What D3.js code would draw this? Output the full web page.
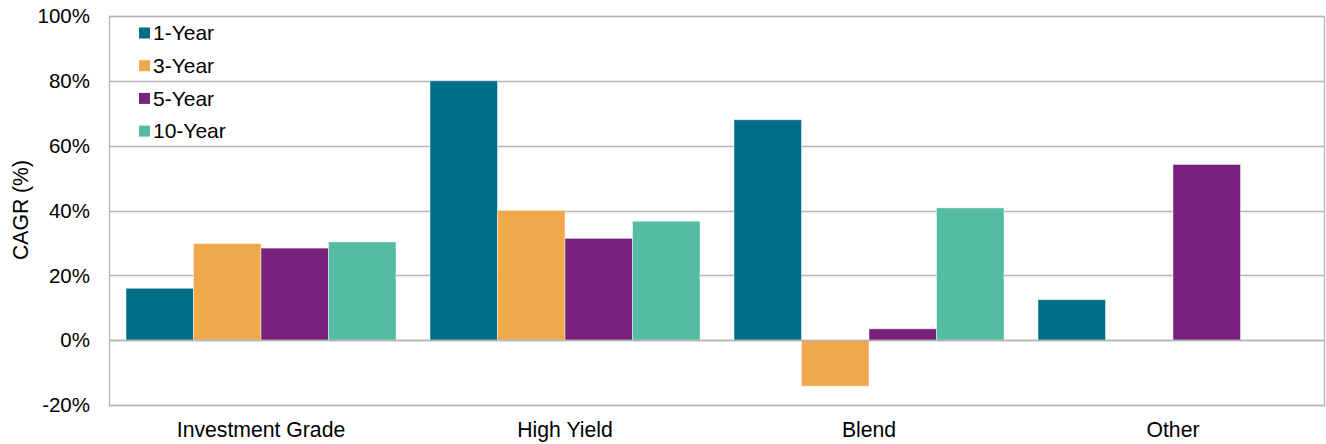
<!DOCTYPE html>
<html>
<head>
<meta charset="utf-8">
<script src="https://cdn.jsdelivr.net/npm/d3@7"></script>
<style>
  body { margin: 0; background: #fff; }
  text { font-family: "Liberation Sans", Arial, sans-serif; fill: #000; }
</style>
</head>
<body>
<svg id="chart" width="1326" height="444"></svg>
<script>
// data
const categories = ['Investment Grade', 'High Yield', 'Blend', 'Other']
const seriesNames = ['1-Year', '3-Year', '5-Year', '10-Year']
const oneYear = [16, 80, 68, 12.5]
const threeYear = [29.8, 40, -14.2, null]
const fiveYear = [28.4, 31.4, 3.5, 54.2]
const tenYear = [30.3, 36.7, 40.8, null]
const yTicks = [-20, 0, 20, 40, 60, 80, 100]
const colors = ['#006E89', '#F0A84D', '#78217D', '#55BBA2']

const seriesValues = [oneYear, threeYear, fiveYear, tenYear]

const svg = d3.select('#chart')
const margin = { top: 16, right: 1, bottom: 39, left: 109 }
const width = 1326 - margin.left - margin.right
const height = 444 - margin.top - margin.bottom

const g = svg.append('g').attr('transform', `translate(${margin.left},${margin.top})`)

const x0 = d3.scaleBand().domain(categories).range([0, width])
const gap = 17
const x1 = d3.scaleBand().domain(seriesNames).range([gap, x0.bandwidth() - gap])
const y = d3.scaleLinear().domain([-20, 100]).range([height, 0])

// gridlines
g.append('g')
  .selectAll('line')
  .data(yTicks)
  .enter()
  .append('line')
  .attr('x1', 0)
  .attr('x2', width)
  .attr('y1', d => Math.round(y(d)) + 0.5)
  .attr('y2', d => Math.round(y(d)) + 0.5)
  .attr('stroke', '#b5b5b5')
  .attr('stroke-width', 1.3)

// bars
const bars = []
categories.forEach((c, ci) => {
  seriesNames.forEach((s, si) => {
    const v = seriesValues[si][ci]
    if (v !== null) bars.push({ cat: c, series: s, value: v, color: colors[si] })
  })
})

g.append('g')
  .selectAll('rect')
  .data(bars)
  .enter()
  .append('rect')
  .attr('x', d => x0(d.cat) + x1(d.series))
  .attr('width', x1.bandwidth())
  .attr('y', d => y(Math.max(0, d.value)))
  .attr('height', d => Math.abs(y(d.value) - y(0)))
  .attr('fill', d => d.color)
  .attr('stroke', '#fff')
  .attr('stroke-opacity', 0.45)
  .attr('stroke-width', 1)

// zero line and plot border on top
g.append('line')
  .attr('x1', 0).attr('x2', width)
  .attr('y1', Math.round(y(0)) + 0.5).attr('y2', Math.round(y(0)) + 0.5)
  .attr('stroke', '#b5b5b5')
  .attr('stroke-width', 1.3)

g.append('rect')
  .attr('x', 0.5).attr('y', 0.5)
  .attr('width', width - 1).attr('height', height)
  .attr('fill', 'none')
  .attr('stroke', '#b5b5b5')
  .attr('stroke-width', 1.3)

// y tick labels
g.append('g')
  .selectAll('text')
  .data(yTicks)
  .enter()
  .append('text')
  .attr('x', -19)
  .attr('y', d => y(d))
  .attr('dy', '0.35em')
  .attr('text-anchor', 'end')
  .style('font-size', '20.5px')
  .text(d => d + '%')

// category labels
g.append('g')
  .selectAll('text')
  .data(categories)
  .enter()
  .append('text')
  .attr('x', d => x0(d) + x0.bandwidth() / 2)
  .attr('y', height + 32)
  .attr('text-anchor', 'middle')
  .style('font-size', '21.2px')
  .text(d => d)

// y axis title
svg.append('text')
  .attr('transform', 'translate(28,210) rotate(-90)')
  .attr('text-anchor', 'middle')
  .style('font-size', '21.2px')
  .text('CAGR (%)')

// legend
const legend = svg.append('g')
  .selectAll('g')
  .data(seriesNames)
  .enter()
  .append('g')
  .attr('transform', (d, i) => `translate(139,${33 + i * 32.7})`)

legend.append('rect')
  .attr('x', 0).attr('y', -5.5)
  .attr('width', 11).attr('height', 11)
  .attr('fill', (d, i) => colors[i])

legend.append('text')
  .attr('x', 14)
  .attr('y', 0)
  .attr('dy', '0.35em')
  .style('font-size', '21px')
  .text(d => d)
</script>
</body>
</html>
